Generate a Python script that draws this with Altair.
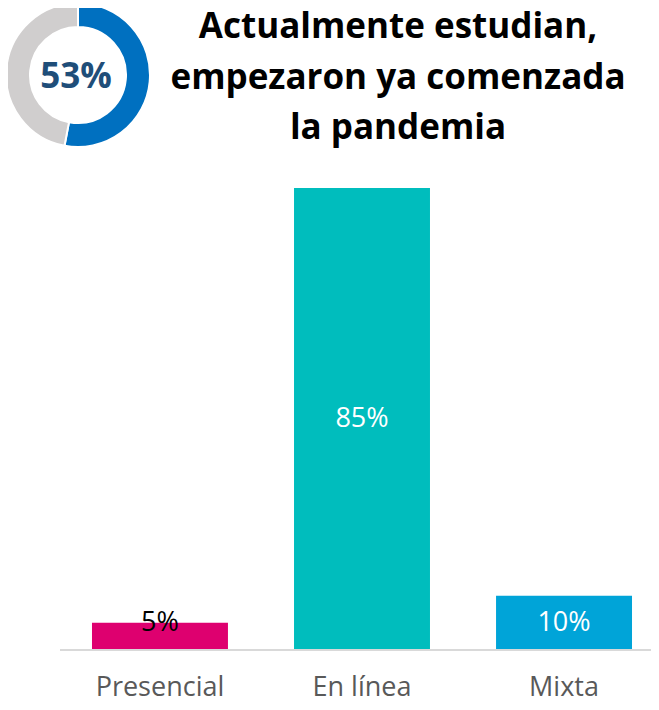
import altair as alt
import pandas as pd

categories = ["Presencial", "En línea", "Mixta"]
values = [5, 85, 10]
bar_colors = ["#DE006F", "#00BDBD", "#00A4D8"]
label_colors = ["#000000", "#FFFFFF", "#FFFFFF"]

donut_parts = ["Sí", "No"]
donut_values = [53, 47]
donut_colors = ["#0070C0", "#D0CECE"]
donut_label = "53%"

title_lines = ["Actualmente estudian,", "empezaron ya comenzada", "la pandemia"]

bars_df = pd.DataFrame({
    "cat": categories,
    "v": values,
    "color": bar_colors,
    "lcolor": label_colors,
    "label": [f"{v}%" for v in values],
})
bars_df["pos"] = [v / 2 if v >= 10 else v for v in values]

donut_df = pd.DataFrame({"part": donut_parts, "v": donut_values, "order": [0, 1]})
title_df = pd.DataFrame({"line": title_lines, "i": list(range(len(title_lines)))})

FONT = "Open Sans"
W, H = 578, 462

x_enc = alt.X("cat:N", sort=categories, title=None,
              scale=alt.Scale(paddingInner=0.327, paddingOuter=0.094),
              axis=alt.Axis(labelFontSize=27, labelColor="#595959", labelFont=FONT,
                            ticks=False, domain=False,
                            labelPadding=24, labelAngle=0))
y_scale = alt.Scale(domain=[0, 85], nice=False)

bars = alt.Chart(bars_df).mark_bar().encode(
    x=x_enc,
    y=alt.Y("v:Q", scale=y_scale, axis=None),
    color=alt.Color("color:N", scale=None),
)

baseline = alt.Chart(pd.DataFrame({"z": [0]})).mark_rule(color="#D9D9D9", strokeWidth=2).encode(
    x=alt.value(-13), x2=alt.value(W + 10), y=alt.value(H)
)

labels = alt.Chart(bars_df).mark_text(fontSize=27, font=FONT, baseline="middle").encode(
    x=alt.X("cat:N", sort=categories),
    y=alt.Y("pos:Q", scale=y_scale, axis=None),
    text="label:N",
    color=alt.Color("lcolor:N", scale=None),
)

donut = alt.Chart(donut_df).mark_arc(innerRadius=48, outerRadius=72, stroke="white",
                                     strokeWidth=2).encode(
    theta=alt.Theta("v:Q", stack=True),
    order=alt.Order("order:Q"),
    color=alt.Color("part:N", scale=alt.Scale(domain=donut_parts, range=donut_colors), legend=None),
    x=alt.value(5),
    y=alt.value(-113),
)

donut_text = alt.Chart(pd.DataFrame({"t": [donut_label]})).mark_text(
    fontSize=35, fontWeight="bold", font=FONT, color="#1F4E79", baseline="middle"
).encode(text="t:N", x=alt.value(3), y=alt.value(-111))

title = alt.Chart(title_df).mark_text(
    fontSize=35, fontWeight="bold", font=FONT, color="#000000", baseline="top"
).encode(
    text="line:N",
    x=alt.value(325),
    y=alt.Y("i:Q", scale=alt.Scale(domain=[0, 2], range=[-178, -77]), axis=None),
)

chart = alt.layer(bars, baseline, labels, donut, donut_text, title).resolve_scale(
    color="independent", y="independent"
).properties(
    width=W, height=H,
    autosize=alt.AutoSizeParams(type="none"),
    padding={"left": 65, "top": 180, "right": 0, "bottom": 52},
).configure_view(stroke=None)

chart.save("out.html", embed_options={"renderer": "svg", "actions": False})
